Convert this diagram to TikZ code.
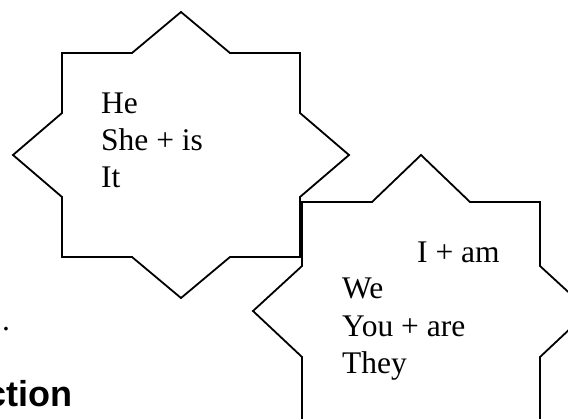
\documentclass[tikz,border=0pt]{standalone}
\usepackage{fontspec}
\setmainfont{Liberation Serif}
\newfontfamily\headsans{Liberation Sans}
\begin{document}
\begin{tikzpicture}[x=1pt,y=-1pt,
  starline/.style={draw=black,line width=1.8pt,line join=miter,fill=white},
  word/.style={anchor=base west,inner sep=0pt,font=\fontsize{31.5}{37}\selectfont}]
\useasboundingbox (0,0) rectangle (568,418);
% first star
\draw[starline] (181,12) -- (230,53) -- (300,53) -- (300,113) -- (349,155) -- (300,197)
  -- (300,257) -- (230,257) -- (181,298) -- (132,257) -- (62,257) -- (62,197)
  -- (13,155) -- (62,113) -- (62,53) -- (132,53) -- cycle;
% second star
\draw[starline] (421,155) -- (470,202) -- (540,202) -- (540,266) -- (589,311) -- (540,357)
  -- (540,421) -- (470,421) -- (421,467) -- (372,421) -- (302,421) -- (302,357)
  -- (253,311) -- (302,266) -- (302,202) -- (372,202) -- cycle;
% texts of first star
\node[word] (he) at (101,113) {He};
\node[word] (she) at (101,150) {She + is};
\node[word] (it) at (101,187) {It};
% texts of second star
\node[word] (iam) at (417,262) {I + am};
\node[word] (we) at (342,298) {We};
\node[word] (you) at (342,336) {You + are};
\node[word] (they) at (342,373) {They};
% fragments at the left
\node[word] (dot) at (2,330) {.};
\node[anchor=base east,inner sep=0pt,font=\headsans\bfseries\fontsize{36}{42}\selectfont] (ction) at (73,406) {ction};
\end{tikzpicture}
\end{document}
